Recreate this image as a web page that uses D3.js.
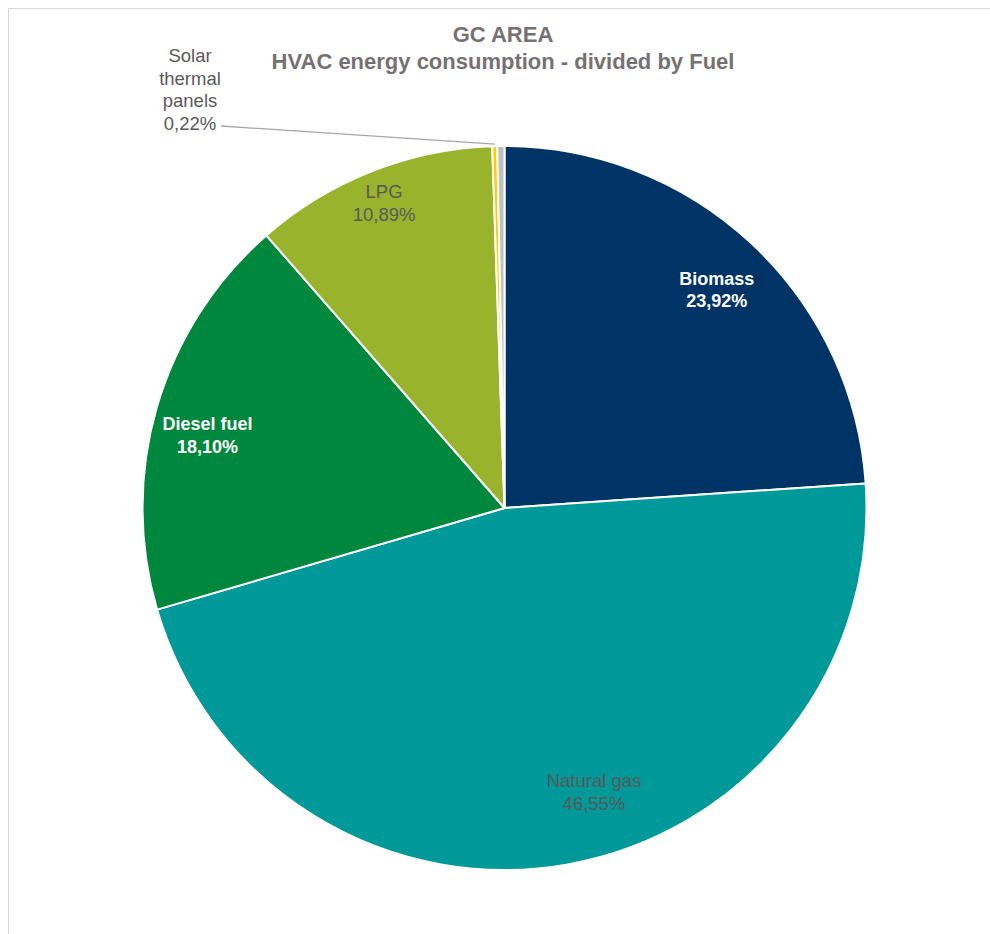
<!DOCTYPE html>
<html>
<head>
<meta charset="utf-8">
<script src="https://cdn.jsdelivr.net/npm/d3@7"></script>
<style>
  html, body { margin: 0; padding: 0; background: #fff; }
  svg { display: block; }
  text { font-family: "Liberation Sans", Arial, sans-serif; }
</style>
</head>
<body>
<svg id="chart" width="990" height="934"></svg>
<script>
const categories = ["Biomass", "Natural gas", "Diesel fuel", "LPG", "Solar thermal panels", "Other"];
const values = [23.92, 46.55, 18.10, 10.89, 0.22, 0.32];
const colors = ["#003366", "#009999", "#00873E", "#99B32D", "#FFCC00", "#C0C0C0"];
const labelLines = [["Biomass"], ["Natural gas"], ["Diesel fuel"], ["LPG"], ["Solar", "thermal", "panels"], null];
const labelBold = [true, false, true, false, false, false];
const labelColor = ["#ffffff", "#595959", "#ffffff", "#595959", "#595959", null];
const titleLines = ["GC AREA", "HVAC energy consumption - divided by Fuel"];

const svg = d3.select("#chart");
const W = 990, H = 934;

// frame
svg.append("path")
  .attr("d", `M8.5,${H} V8.5 H${W}`)
  .attr("fill", "none").attr("stroke", "#d9d9d9").attr("stroke-width", 1);

const cx = 504.5, cy = 508, r = 362;
const fmt = v => d3.format(".2f")(v).replace(".", ",") + "%";

const data = categories.map((c, i) => ({ name: c, value: values[i], i }));
const pie = d3.pie().sort(null).value(d => d.value);
const arcs = pie(data);
const arc = d3.arc().innerRadius(0).outerRadius(r);

const g = svg.append("g").attr("transform", `translate(${cx},${cy})`);
g.selectAll("path.slice").data(arcs).enter().append("path")
  .attr("class", "slice")
  .attr("d", arc)
  .attr("fill", d => colors[d.data.i])
  .attr("stroke", "#fff").attr("stroke-width", 2).attr("stroke-linejoin", "round");

// labels: radius fraction and angular nudge (degrees) from the slice midpoint
const labelR = [0.842, 0.822, 0.845, 0.906, null, null];
const labelNudge = [1.1, -7.4, -2.5, 0, 0, 0];
const lineH = 22.5;
arcs.forEach(d => {
  const i = d.data.i;
  if (!labelLines[i] || labelR[i] == null) return;
  const a = (d.startAngle + d.endAngle) / 2 + labelNudge[i] * Math.PI / 180;
  const x = r * labelR[i] * Math.sin(a), y = -r * labelR[i] * Math.cos(a);
  const lines = labelLines[i].concat([fmt(d.data.value)]);
  const t = g.append("text")
    .attr("text-anchor", "middle")
    .attr("fill", labelColor[i])
    .attr("font-size", labelBold[i] ? 18 : 18.5)
    .attr("font-weight", labelBold[i] ? "bold" : "normal");
  lines.forEach((s, k) => {
    t.append("tspan").attr("x", x)
      .attr("y", y + (k - (lines.length - 1) / 2) * lineH + 6.5)
      .text(s);
  });
});

// Solar label outside with leader line
(function () {
  const d = arcs[4];
  const i = 4;
  const mid = (d.startAngle + d.endAngle) / 2;
  const edge = [cx + r * Math.sin(mid), cy - r * Math.cos(mid)];
  const tx = 190, ty0 = 62;
  const lines = labelLines[i].concat([fmt(d.data.value)]);
  const t = svg.append("text").attr("text-anchor", "middle")
    .attr("fill", labelColor[i]).attr("font-size", 18.5);
  lines.forEach((s, k) => t.append("tspan").attr("x", tx).attr("y", ty0 + k * lineH).text(s));
  svg.append("path")
    .attr("d", `M221,126 L${edge[0]},${edge[1] - 2}`)
    .attr("fill", "none").attr("stroke", "#a6a6a6").attr("stroke-width", 1.3);
})();

// title
const title = svg.append("text").attr("text-anchor", "middle")
  .attr("fill", "#767171").attr("font-weight", "bold").attr("font-size", 22);
titleLines.forEach((s, k) => title.append("tspan").attr("x", 503).attr("y", 42 + k * 27).text(s));
</script>
</body>
</html>
